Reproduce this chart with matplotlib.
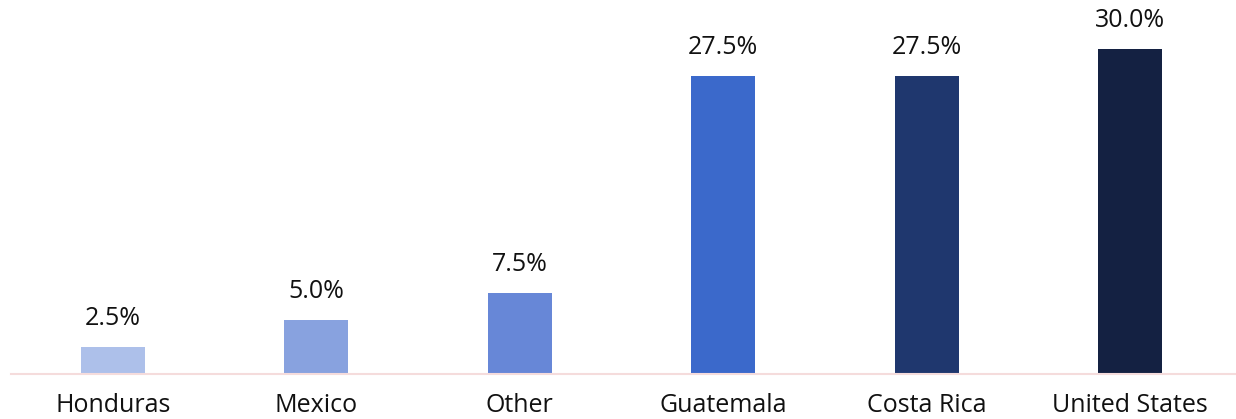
import matplotlib.pyplot as plt

countries = ["Honduras", "Mexico", "Other", "Guatemala", "Costa Rica", "United States"]
shares = [2.5, 5.0, 7.5, 27.5, 27.5, 30.0]
colors = ["#adc0ea", "#88a2df", "#6787d7", "#3b69cb", "#1f376e", "#142142"]

plt.rcParams["font.family"] = ["Open Sans", "DejaVu Sans"]

fig = plt.figure(figsize=(12.36, 4.19), dpi=100)
ax = fig.add_axes([11 / 1236, 45 / 419, 1 - 11 / 1236, 1 - 45 / 419])

x = range(len(countries))
bars = ax.bar(x, shares, width=0.315, color=colors, zorder=2)

for xi, v in zip(x, shares):
    ax.annotate(f"{v:.1f}%", (xi, v), xytext=(0, 11.5), textcoords="offset points",
                ha="center", va="bottom", fontsize=18, color="#111111")

ax.set_xlim(-0.501, 5.52)
ax.set_ylim(0, 34.5)
ax.set_xticks(list(x))
ax.set_xticklabels(countries, fontsize=18, color="#111111")
ax.tick_params(axis="x", length=0, pad=14)
ax.set_yticks([])
for side in ["top", "right", "left"]:
    ax.spines[side].set_visible(False)
ax.spines["bottom"].set_color("#f5dcdc")
ax.spines["bottom"].set_linewidth(1.5)

fig.savefig("out.png", dpi=100)
